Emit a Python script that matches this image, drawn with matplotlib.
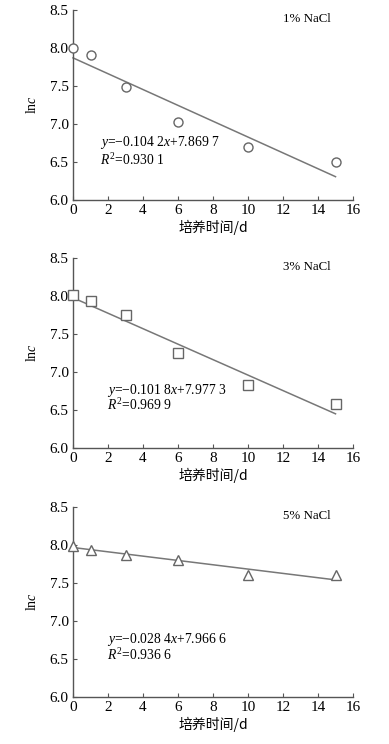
import matplotlib
matplotlib.use("Agg")
import matplotlib.pyplot as plt
import numpy as np

plt.rcParams['font.family'] = ['Liberation Serif', 'Noto Sans CJK SC']
plt.rcParams['mathtext.fontset'] = 'custom'
plt.rcParams['mathtext.rm'] = 'Liberation Serif'
plt.rcParams['mathtext.it'] = 'Liberation Serif:italic'

days = [0, 1, 3, 6, 10, 15]
lnc_1 = [8.00, 7.91, 7.49, 7.03, 6.70, 6.50]
lnc_3 = [8.02, 7.93, 7.75, 7.25, 6.83, 6.58]
lnc_5 = [7.99, 7.93, 7.87, 7.80, 7.60, 7.60]

slopes = [-0.1042, -0.1018, -0.0284]
intercepts = [7.8697, 7.9773, 7.9666]
labels = ['1% NaCl', '3% NaCl', '5% NaCl']
eqs = ['$y$=\u22120.104 2$x$+7.869 7', '$y$=\u22120.101 8$x$+7.977 3', '$y$=\u22120.028 4$x$+7.966 6']
r2s = ['$R^2$=0.930 1', '$R^2$=0.969 9', '$R^2$=0.936 6']
markers = ['o', 's', '^']
series = [lnc_1, lnc_3, lnc_5]
eq_pos = [(1.55, 6.75, 6.53), (1.95, 6.76, 6.56), (1.95, 6.75, 6.55)]

xticks = [0, 2, 4, 6, 8, 10, 12, 14, 16]
yticks = [6.0, 6.5, 7.0, 7.5, 8.0, 8.5]

fig = plt.figure(figsize=(3.89, 7.44), dpi=100)
bottoms = [0.7312, 0.3978, 0.0632]
for i in range(3):
    ax = fig.add_axes([0.1877, bottoms[i], 0.7198, 0.2554])
    ax.set_xlim(0, 16)
    ax.set_ylim(6.0, 8.5)
    for s in ['top', 'right']:
        ax.spines[s].set_visible(False)
    for s in ['left', 'bottom']:
        ax.spines[s].set_color('#555555')
        ax.spines[s].set_linewidth(1.0)
    ax.set_xticks(xticks)
    ax.set_yticks(yticks)
    ax.set_yticklabels(['%.1f' % v for v in yticks])
    ax.tick_params(direction='in', length=3, width=0.8, color='#555555',
                   labelsize=11, pad=3)
    xs = np.array([0, 15])
    ax.plot(xs, intercepts[i] + slopes[i] * xs, color='#777777', lw=1.1,
            clip_on=False, zorder=2)
    ms = 6.5 if markers[i] != '^' else 7
    ax.plot(days, series[i], linestyle='none', marker=markers[i], ms=ms,
            mfc='white', mec='#666666', mew=1.0, clip_on=False, zorder=3)
    ax.text(12.0, 8.38, labels[i], fontsize=9.3, va='center', ha='left')
    ex, ey1, ey2 = eq_pos[i]
    ax.text(ex, ey1, eqs[i], fontsize=9.8, va='center', ha='left')
    ax.text(ex, ey2, r2s[i], fontsize=9.8, va='center', ha='left')
    ax.set_ylabel('ln$c$', fontsize=10, labelpad=8)
    ax.set_xlabel('培养时间/d', fontsize=10, labelpad=2,
                  family=['Noto Sans CJK SC', 'Liberation Serif'])

fig.savefig('out.png', dpi=100)
